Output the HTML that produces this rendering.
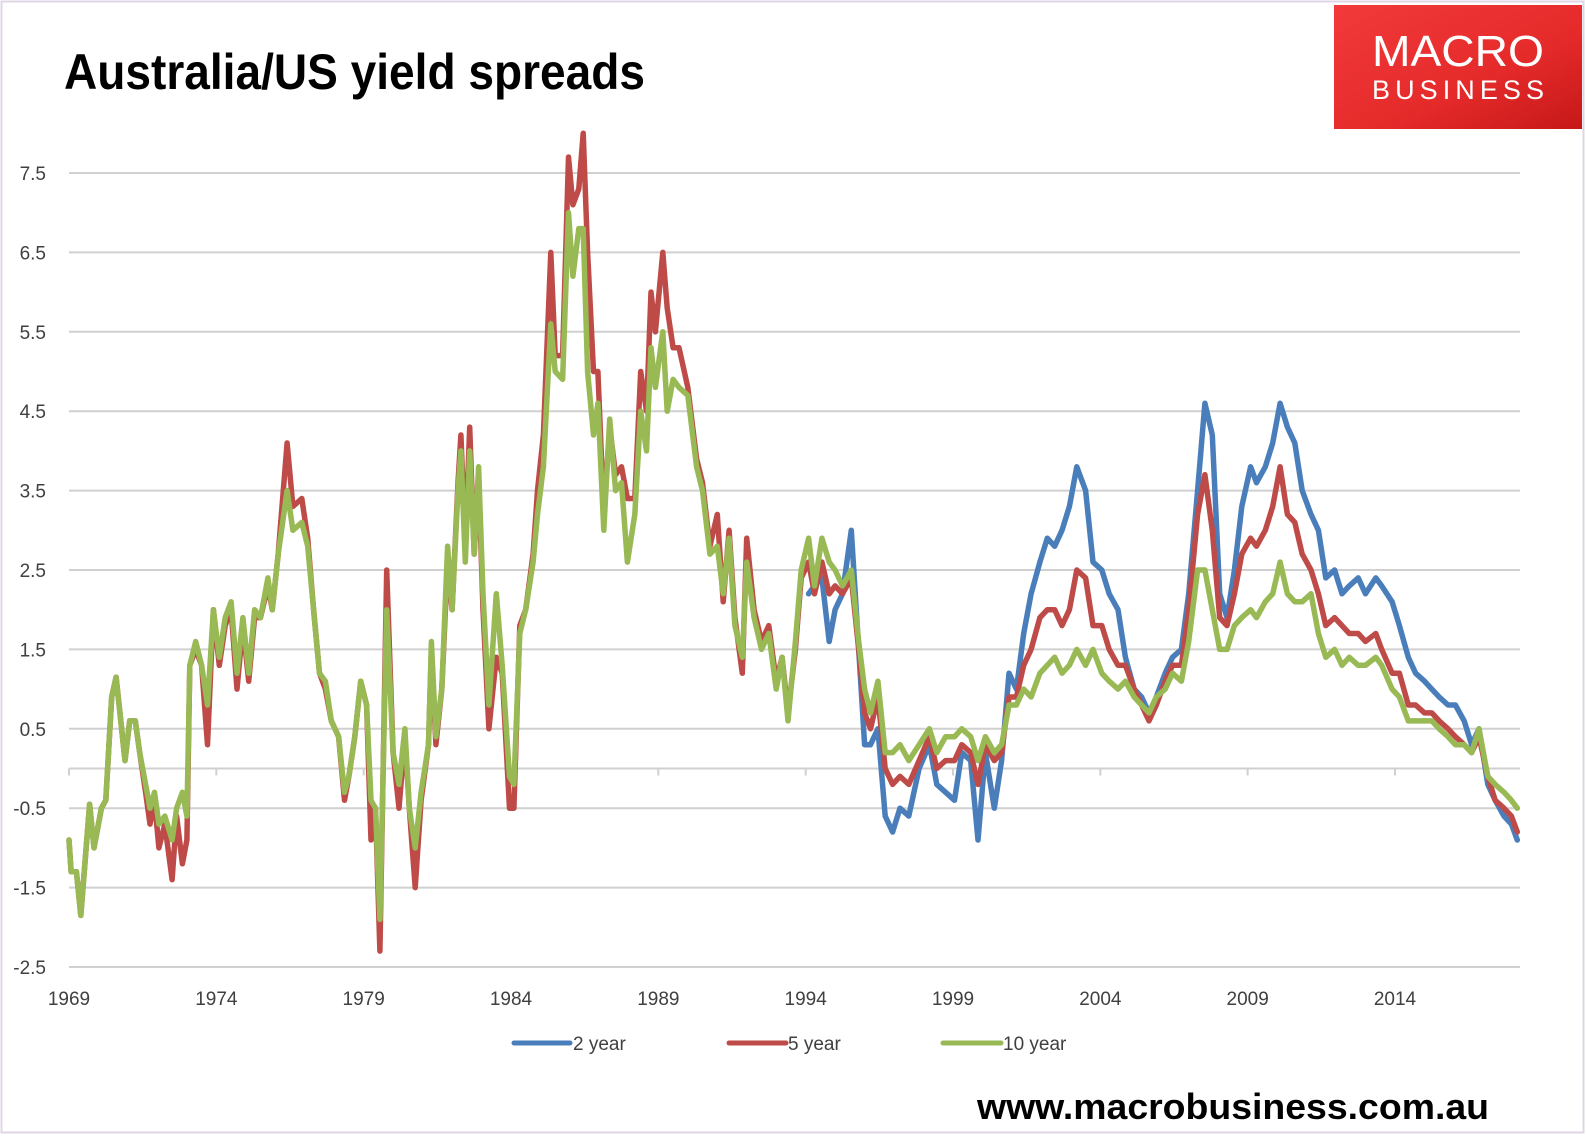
<!DOCTYPE html>
<html><head><meta charset="utf-8">
<style>
html,body{margin:0;padding:0;background:#fff;}
svg{display:block;}
text{font-family:"Liberation Sans",sans-serif;}
</style></head>
<body>
<svg id="chart" width="1586" height="1139" viewBox="0 0 1586 1139" xmlns="http://www.w3.org/2000/svg">
  <defs>
    <linearGradient id="lg" x1="0" y1="0" x2="1" y2="1">
      <stop offset="0" stop-color="#f23a3a"/>
      <stop offset="0.6" stop-color="#e52a2a"/>
      <stop offset="1" stop-color="#c61818"/>
    </linearGradient>
  </defs>
  <rect x="1.5" y="1.5" width="1582" height="1131" fill="#fff" stroke="#e0d4e6" stroke-width="2"/>
  <text x="64" y="89" font-size="50" font-weight="bold" fill="#000" textLength="581" lengthAdjust="spacingAndGlyphs">Australia/US yield spreads</text>
  <g>
    <rect x="1334" y="5" width="248" height="124" fill="url(#lg)"/>
    <text x="1458" y="66" font-size="44" fill="#fff" text-anchor="middle" textLength="172" lengthAdjust="spacingAndGlyphs">MACRO</text>
    <text x="1458" y="99" font-size="27" fill="#fff" text-anchor="middle" textLength="172" lengthAdjust="spacing">BUSINESS</text>
  </g>
  <g id="grid"></g>
  <g id="yticks"></g>
  <g id="xaxis"></g>
  <g id="series"></g>
  <g>
    <g>
      <line x1="514" y1="1043" x2="570" y2="1043" stroke="#4a7ebb" stroke-width="5" stroke-linecap="round"/>
      <text x="573" y="1050" font-size="19" fill="#404040">2 year</text>
    </g>
    <g>
      <line x1="729" y1="1043" x2="786" y2="1043" stroke="#be4b48" stroke-width="5" stroke-linecap="round"/>
      <text x="788" y="1050" font-size="19" fill="#404040">5 year</text>
    </g>
    <g>
      <line x1="943" y1="1043" x2="1001" y2="1043" stroke="#98b954" stroke-width="5" stroke-linecap="round"/>
      <text x="1003" y="1050" font-size="19" fill="#404040">10 year</text>
    </g>
  </g>
  <text x="977" y="1119" font-size="36" font-weight="bold" fill="#000" textLength="512" lengthAdjust="spacingAndGlyphs">www.macrobusiness.com.au</text>
</svg>
<script>
const dates = [1969.0,1969.07,1969.25,1969.4,1969.7,1969.85,1970.1,1970.25,1970.45,1970.6,1970.7,1970.9,1971.06,1971.25,1971.4,1971.6,1971.75,1971.9,1972.05,1972.25,1972.5,1972.65,1972.85,1973.0,1973.1,1973.3,1973.5,1973.7,1973.9,1974.1,1974.3,1974.5,1974.7,1974.9,1975.1,1975.3,1975.5,1975.75,1975.9,1976.1,1976.4,1976.6,1976.9,1977.1,1977.3,1977.5,1977.7,1977.9,1978.15,1978.35,1978.5,1978.7,1978.9,1979.1,1979.25,1979.4,1979.55,1979.78,1980.0,1980.2,1980.4,1980.55,1980.75,1980.95,1981.2,1981.3,1981.45,1981.65,1981.85,1982.0,1982.2,1982.3,1982.45,1982.6,1982.75,1982.9,1983.05,1983.25,1983.5,1983.7,1983.95,1984.1,1984.3,1984.5,1984.75,1984.9,1985.1,1985.35,1985.5,1985.75,1985.95,1986.1,1986.3,1986.45,1986.6,1986.8,1986.95,1987.15,1987.35,1987.55,1987.75,1987.95,1988.2,1988.4,1988.6,1988.75,1988.9,1989.15,1989.3,1989.5,1989.7,1990.0,1990.3,1990.5,1990.75,1991.0,1991.2,1991.4,1991.6,1991.85,1992.0,1992.25,1992.5,1992.75,1993.0,1993.2,1993.4,1993.65,1993.85,1994.1,1994.3,1994.55,1994.8,1995.0,1995.25,1995.55,1995.8,1996.0,1996.2,1996.45,1996.7,1996.95,1997.2,1997.5,1997.85,1998.2,1998.45,1998.75,1999.05,1999.3,1999.6,1999.85,2000.1,2000.4,2000.65,2000.9,2001.15,2001.4,2001.65,2001.95,2002.2,2002.45,2002.7,2002.95,2003.2,2003.5,2003.75,2004.05,2004.3,2004.6,2004.85,2005.15,2005.4,2005.65,2005.9,2006.2,2006.45,2006.75,2007.0,2007.3,2007.55,2007.8,2008.05,2008.3,2008.55,2008.8,2009.1,2009.3,2009.6,2009.85,2010.1,2010.35,2010.6,2010.85,2011.15,2011.4,2011.65,2011.95,2012.2,2012.45,2012.75,2013.0,2013.35,2013.55,2013.9,2014.15,2014.45,2014.7,2015.0,2015.25,2015.5,2015.8,2016.05,2016.35,2016.6,2016.85,2017.15,2017.4,2017.7,2017.95,2018.15];
const tenYear = [-0.9,-1.3,-1.3,-1.85,-0.45,-1.0,-0.5,-0.4,0.9,1.15,0.8,0.1,0.6,0.6,0.2,-0.2,-0.5,-0.3,-0.7,-0.6,-0.9,-0.5,-0.3,-0.6,1.3,1.6,1.3,0.8,2.0,1.4,1.9,2.1,1.2,1.9,1.2,2.0,1.9,2.4,2.0,2.7,3.5,3.0,3.1,2.8,2.0,1.2,1.1,0.6,0.4,-0.3,-0.1,0.4,1.1,0.8,-0.4,-0.5,-1.9,2.0,0.2,-0.2,0.5,-0.5,-1.0,-0.3,0.3,1.6,0.4,1.0,2.8,2.0,3.5,4.0,2.6,4.0,2.7,3.8,2.2,0.8,2.2,1.3,-0.1,-0.2,1.7,2.0,2.6,3.2,3.8,5.6,5.0,4.9,7.0,6.2,6.8,6.8,5.0,4.2,4.6,3.0,4.4,3.5,3.6,2.6,3.2,4.5,4.0,5.3,4.8,5.5,4.5,4.9,4.8,4.7,3.8,3.5,2.7,2.8,2.2,2.9,1.8,1.4,2.6,1.9,1.5,1.7,1.0,1.4,0.6,1.6,2.5,2.9,2.3,2.9,2.6,2.5,2.3,2.5,1.6,1.0,0.7,1.1,0.2,0.2,0.3,0.1,0.3,0.5,0.2,0.4,0.4,0.5,0.4,0.1,0.4,0.2,0.3,0.8,0.8,1.0,0.9,1.2,1.3,1.4,1.2,1.3,1.5,1.3,1.5,1.2,1.1,1.0,1.1,0.9,0.8,0.7,0.9,1.0,1.2,1.1,1.6,2.5,2.5,2.0,1.5,1.5,1.8,1.9,2.0,1.9,2.1,2.2,2.6,2.2,2.1,2.1,2.2,1.7,1.4,1.5,1.3,1.4,1.3,1.3,1.4,1.3,1.0,0.9,0.6,0.6,0.6,0.6,0.5,0.4,0.3,0.3,0.2,0.5,-0.1,-0.2,-0.3,-0.4,-0.5];
const fiveYear = [-0.9,-1.3,-1.3,-1.85,-0.45,-1.0,-0.5,-0.4,0.9,1.15,0.8,0.1,0.6,0.6,0.2,-0.3,-0.7,-0.4,-1.0,-0.7,-1.4,-0.6,-1.2,-0.9,1.3,1.5,1.3,0.3,2.0,1.3,1.8,2.0,1.0,1.8,1.1,1.9,1.9,2.3,2.0,2.7,4.1,3.3,3.4,2.9,2.0,1.2,1.0,0.6,0.4,-0.4,-0.1,0.4,1.1,0.8,-0.9,-0.5,-2.3,2.5,0.2,-0.5,0.4,-0.5,-1.5,-0.4,0.3,1.5,0.3,1.0,2.6,2.0,3.6,4.2,2.8,4.3,2.7,3.7,2.0,0.5,1.4,1.2,-0.5,-0.5,1.8,2.0,2.7,3.5,4.2,6.5,5.2,5.2,7.7,7.1,7.3,8.0,6.5,5.0,5.0,3.2,4.3,3.7,3.8,3.4,3.4,5.0,4.5,6.0,5.5,6.5,5.8,5.3,5.3,4.8,3.9,3.6,2.8,3.2,2.1,3.0,1.9,1.2,2.9,2.0,1.6,1.8,1.1,1.4,0.7,1.5,2.4,2.6,2.2,2.6,2.2,2.3,2.2,2.4,1.5,0.7,0.5,0.9,0.0,-0.2,-0.1,-0.2,0.1,0.4,0.0,0.1,0.1,0.3,0.2,-0.2,0.3,0.1,0.2,0.9,0.9,1.3,1.5,1.9,2.0,2.0,1.8,2.0,2.5,2.4,1.8,1.8,1.5,1.3,1.3,1.0,0.8,0.6,0.8,1.1,1.3,1.3,2.0,3.2,3.7,3.0,1.9,1.8,2.2,2.7,2.9,2.8,3.0,3.3,3.8,3.2,3.1,2.7,2.5,2.2,1.8,1.9,1.8,1.7,1.7,1.6,1.7,1.5,1.2,1.2,0.8,0.8,0.7,0.7,0.6,0.5,0.4,0.3,0.2,0.4,-0.1,-0.4,-0.5,-0.6,-0.8];
const twoYear = [null,null,null,null,null,null,null,null,null,null,null,null,null,null,null,null,null,null,null,null,null,null,null,null,null,null,null,null,null,null,null,null,null,null,null,null,null,null,null,null,null,null,null,null,null,null,null,null,null,null,null,null,null,null,null,null,null,null,null,null,null,null,null,null,null,null,null,null,null,null,null,null,null,null,null,null,null,null,null,null,null,null,null,null,null,null,null,null,null,null,null,null,null,null,null,null,null,null,null,null,null,null,null,null,null,null,null,null,null,null,null,null,null,null,null,null,null,null,null,null,null,null,null,null,null,null,null,null,null,2.2,2.3,2.4,1.6,2.0,2.2,3.0,1.5,0.3,0.3,0.5,-0.6,-0.8,-0.5,-0.6,0.0,0.3,-0.2,-0.3,-0.4,0.2,0.1,-0.9,0.2,-0.5,0.1,1.2,1.0,1.7,2.2,2.6,2.9,2.8,3.0,3.3,3.8,3.5,2.6,2.5,2.2,2.0,1.4,1.0,0.9,0.7,0.9,1.2,1.4,1.5,2.2,3.5,4.6,4.2,2.2,1.9,2.5,3.3,3.8,3.6,3.8,4.1,4.6,4.3,4.1,3.5,3.2,3.0,2.4,2.5,2.2,2.3,2.4,2.2,2.4,2.3,2.1,1.8,1.4,1.2,1.1,1.0,0.9,0.8,0.8,0.6,0.3,0.5,-0.2,-0.4,-0.6,-0.7,-0.9];
const yTickValues = [7.5,6.5,5.5,4.5,3.5,2.5,1.5,0.5,-0.5,-1.5,-2.5];
const yTickLabels = ["7.5","6.5","5.5","4.5","3.5","2.5","1.5","0.5","-0.5","-1.5","-2.5"];
const xTickYears = [1969,1974,1979,1984,1989,1994,1999,2004,2009,2014];

const NS = "http://www.w3.org/2000/svg";
const X0 = 69, X1 = 1395, Y0 = 173, Y1 = 967;
function xScale(t){ return X0 + (t - 1969) * (X1 - X0) / 45; }
function yScale(v){ return Y0 + (7.5 - v) * (Y1 - Y0) / 10; }
function mk(tag, attrs){ const e = document.createElementNS(NS, tag); for (const k in attrs) e.setAttribute(k, attrs[k]); return e; }

const grid = document.getElementById('grid');
const yt = document.getElementById('yticks');
yTickValues.forEach((v, i) => {
  const l = mk('line', {x1: X0, x2: 1520, y1: yScale(v), y2: yScale(v), stroke: '#d0d0d0', 'stroke-width': 2});
  
  
  grid.appendChild(l);
  const t = mk('text', {x: 46, y: yScale(v) + 7, 'font-size': 19, fill: '#404040', 'text-anchor': 'end'});
  t.textContent = yTickLabels[i];
  
  
  yt.appendChild(t);
});

const xa = document.getElementById('xaxis');
const ax = mk('line', {x1: X0, x2: 1520, y1: yScale(0), y2: yScale(0), stroke: '#d0d0d0', 'stroke-width': 2});


xa.appendChild(ax);
xTickYears.forEach(yr => {
  const tk = mk('line', {x1: xScale(yr), x2: xScale(yr), y1: yScale(0), y2: yScale(0) + 7, stroke: '#d0d0d0', 'stroke-width': 2});
  
  
  xa.appendChild(tk);
  const t = mk('text', {x: xScale(yr), y: 1005, 'font-size': 19, fill: '#404040', 'text-anchor': 'middle'});
  t.textContent = String(yr);
  
  
  xa.appendChild(t);
});

const sg = document.getElementById('series');
function drawSeries(vals, color, name){
  let d = '', pen = false;
  vals.forEach((v, i) => {
    if (v === null) { pen = false; return; }
    d += (pen ? 'L' : 'M') + xScale(dates[i]).toFixed(1) + ' ' + yScale(v).toFixed(1) + ' ';
    pen = true;
  });
  const p = mk('path', {d: d, fill: 'none', stroke: color, 'stroke-width': 5.5, 'stroke-linejoin': 'round', 'stroke-linecap': 'round'});
  
  
  sg.appendChild(p);
}
drawSeries(twoYear, '#4a7ebb', 'line-2-year');
drawSeries(fiveYear, '#be4b48', 'line-5-year');
drawSeries(tenYear, '#98b954', 'line-10-year');
</script>
</body></html>
